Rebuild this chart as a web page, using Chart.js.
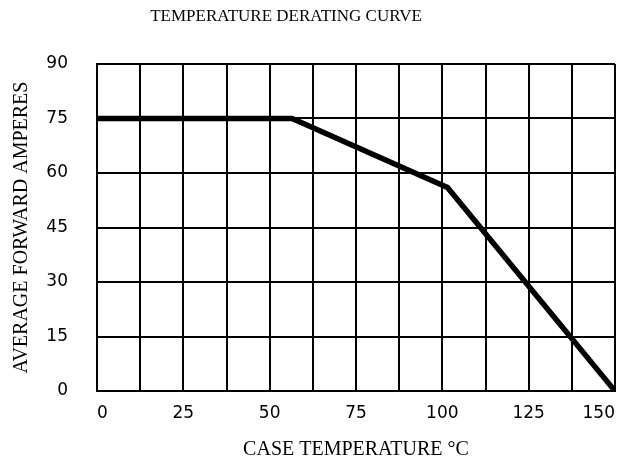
<!DOCTYPE html>
<html>
<head>
<meta charset="utf-8">
<script src="https://cdn.jsdelivr.net/npm/chart.js@4"></script>
<style>
  html, body { margin: 0; padding: 0; background: #fff; }
  #wrap { width: 627px; height: 464px; }
</style>
</head>
<body>
<div id="wrap"><canvas id="deratingChart"></canvas></div>
<script>
// values
const caseTemps = [0, 56.5, 101.5, 150];
const forwardAmps = [75, 75, 56, 0];
const xTicks = [0, 25, 50, 75, 100, 125, 150];
const yTicks = [0, 15, 30, 45, 60, 75, 90];
const chartTitle = 'TEMPERATURE DERATING CURVE';

const points = caseTemps.map((t, i) => ({ x: t, y: forwardAmps[i] }));

// the printed title sits a bit left of centre, so draw it ourselves
const headingPlugin = {
    id: 'heading',
    afterDraw(chart) {
        const c = chart.ctx;
        c.save();
        c.fillStyle = '#000';
        c.font = '17px "Liberation Serif"';
        c.textAlign = 'center';
        c.textBaseline = 'middle';
        c.fillText(chartTitle, 286, 17);
        c.restore();
    }
};

const ctx = document.getElementById('deratingChart').getContext('2d');

new Chart(ctx, {
    type: 'line',
    data: {
        datasets: [{
            data: points,
            borderColor: '#000',
            borderWidth: 5.5,
            pointRadius: 0,
            tension: 0,
            borderJoinStyle: 'miter'
        }]
    },
    plugins: [headingPlugin],
    options: {
        responsive: true,
        maintainAspectRatio: false,
        animation: false,
        layout: { padding: { top: 64, left: 0, right: 0, bottom: 0 } },
        plugins: {
            legend: { display: false },
            tooltip: { enabled: false },
            title: { display: false }
        },
        scales: {
            x: {
                type: 'linear',
                min: 0,
                max: 150,
                grid: { color: '#000', lineWidth: 2, drawTicks: false },
                border: { color: '#000', width: 2 },
                afterFit: scale => {
                    scale.height = 73;
                    scale.paddingLeft = 0;
                    scale.paddingRight = 12;
                },
                ticks: {
                    stepSize: 12.5,
                    autoSkip: false,
                    maxRotation: 0,
                    align: 'inner',
                    padding: 12,
                    color: '#000',
                    font: { family: 'DejaVu Sans', size: 17 },
                    // gridlines every 12.5, labels only on the 25s
                    callback: v => xTicks.includes(v) ? String(v) : ''
                },
                title: {
                    display: true,
                    text: 'CASE TEMPERATURE \u00B0C',
                    color: '#000',
                    font: { family: 'Liberation Serif', size: 20 },
                    padding: { top: 0, bottom: 2 }
                }
            },
            y: {
                min: 0,
                max: 90,
                grid: { color: '#000', lineWidth: 2, drawTicks: false },
                border: { color: '#000', width: 2 },
                afterFit: scale => { scale.width = 97; },
                ticks: {
                    stepSize: 15,
                    padding: 29,
                    color: '#000',
                    font: { family: 'DejaVu Sans', size: 17 },
                    callback: v => yTicks.includes(v) ? String(v) : ''
                },
                title: {
                    display: true,
                    text: 'AVERAGE FORWARD AMPERES',
                    color: '#000',
                    font: { family: 'Liberation Serif', size: 20 },
                    padding: { top: 10, bottom: 0 }
                }
            }
        }
    }
});
</script>
</body>
</html>
